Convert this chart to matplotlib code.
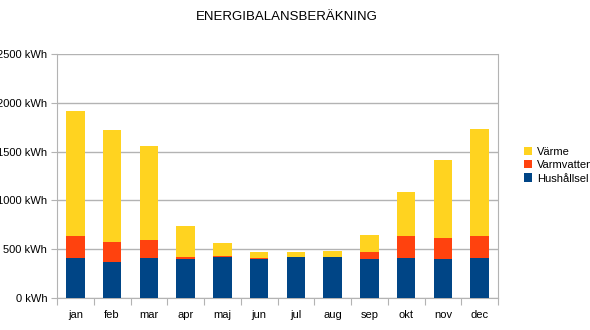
import matplotlib
matplotlib.use("Agg")
import matplotlib.pyplot as plt
from matplotlib.ticker import FuncFormatter, MultipleLocator

plt.rcParams['font.family'] = ['Liberation Sans', 'DejaVu Sans']

months = ["jan", "feb", "mar", "apr", "maj", "jun", "jul", "aug", "sep", "okt", "nov", "dec"]
hushallsel = [413, 372, 413, 400, 420, 403, 420, 420, 403, 413, 400, 413]
varmvatten = [222, 205, 182, 20, 10, 7, 2, 0, 72, 222, 218, 222]
varme = [1285, 1141, 966, 321, 134, 62, 46, 65, 171, 451, 796, 1100]

colors = {"Hushållsel": "#004586", "Varmvatten": "#ff420e", "Värme": "#ffd320"}

fig = plt.figure(figsize=(5.9, 3.3), dpi=100)
ax = fig.add_axes([57 / 590, 32 / 330, 441 / 590, 244 / 330])

x = range(len(months))
w = 0.5
b1 = ax.bar(x, hushallsel, w, color=colors["Hushållsel"], label="Hushållsel", zorder=3)
b2 = ax.bar(x, varmvatten, w, bottom=hushallsel, color=colors["Varmvatten"],
            label="Varmvatten", zorder=3)
bottom3 = [a + b for a, b in zip(hushallsel, varmvatten)]
b3 = ax.bar(x, varme, w, bottom=bottom3, color=colors["Värme"], label="Värme", zorder=3)

ax.set_xlim(-0.5, len(months) - 0.5)
ax.set_ylim(0, 2500)
ax.yaxis.set_major_locator(MultipleLocator(500))
ax.yaxis.set_major_formatter(FuncFormatter(lambda v, p: f"{int(v)} kWh"))
ax.grid(axis="y", color="#b3b3b3", linewidth=1, zorder=0)

# category separators as major ticks, month names as minor labels
ax.set_xticks([i - 0.5 for i in range(len(months) + 1)])
ax.set_xticklabels([])
ax.set_xticks(list(x), minor=True)
ax.set_xticklabels(months, minor=True)
ax.tick_params(axis="x", which="major", length=5, color="#b3b3b3")
ax.tick_params(axis="x", which="minor", length=0, pad=9, labelsize=8)
ax.tick_params(axis="y", length=4, color="#b3b3b3", labelsize=8, pad=3)

for side in ["left", "bottom", "right"]:
    ax.spines[side].set_color("#b3b3b3")
ax.spines["top"].set_visible(False)

fig.text(287 / 590, 1 - 17 / 330, "ENERGIBALANSBERÄKNING", ha="center", va="center", fontsize=9.5)

fig.legend(handles=[b3, b2, b1], labels=["Värme", "Varmvatten", "Hushållsel"],
           loc="center left", bbox_to_anchor=(518 / 590, 1 - 165 / 330),
           frameon=False, fontsize=8, handlelength=0.8, handleheight=0.8,
           handletextpad=0.4, labelspacing=0.3, borderpad=0)

fig.savefig("out.png", dpi=100)
